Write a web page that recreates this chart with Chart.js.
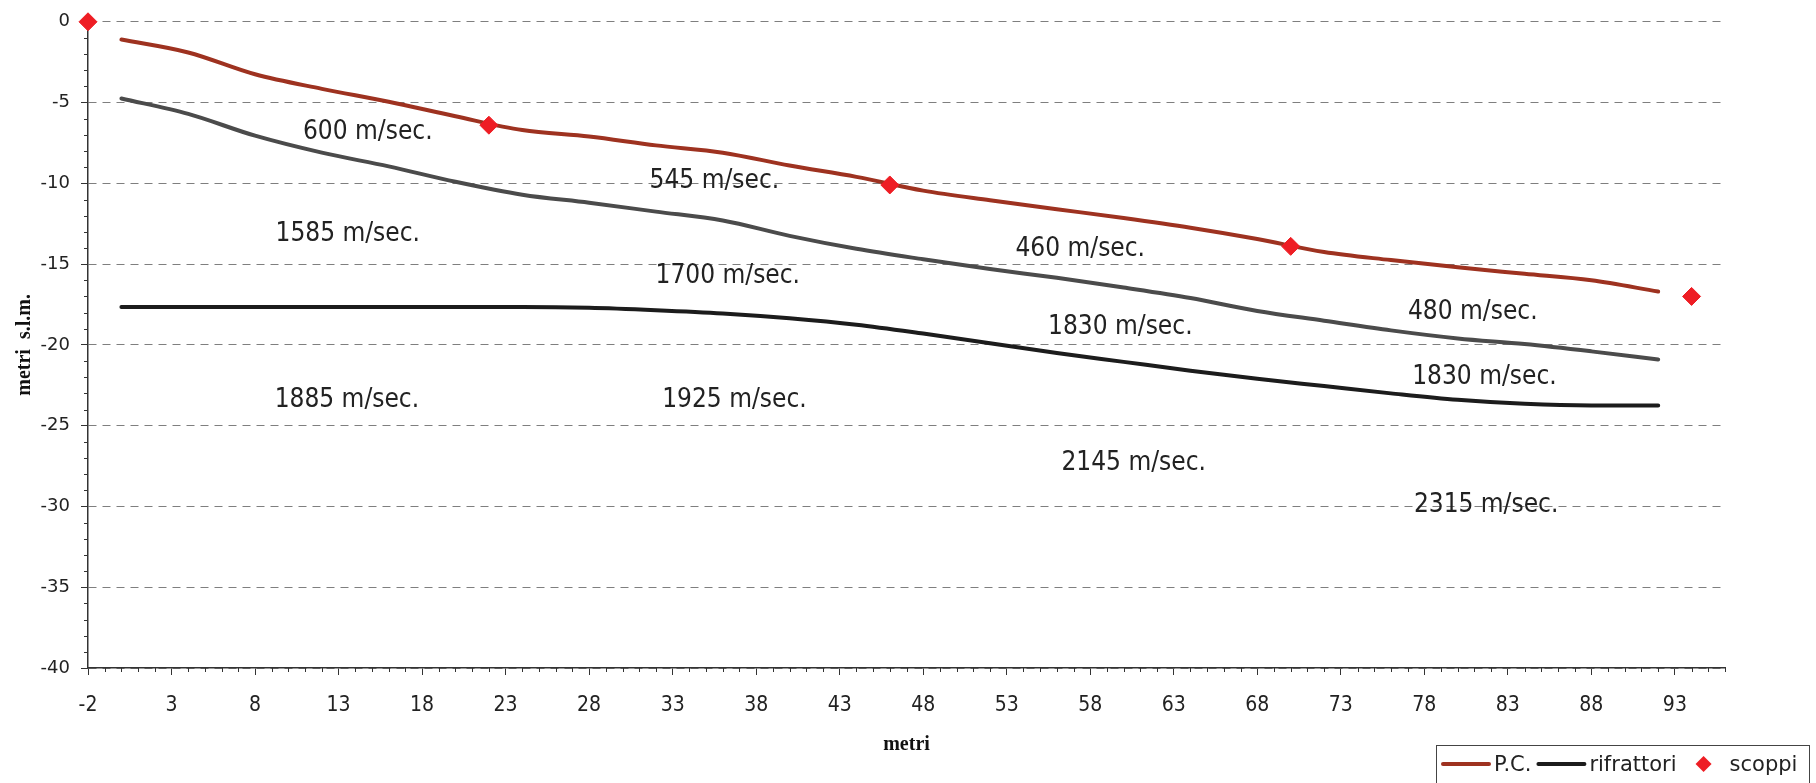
<!DOCTYPE html>
<html lang="it">
<head>
    <meta charset="UTF-8">
    <title>Sezione sismica a rifrazione</title>
    <style>
        body {
            margin: 0;
            background: #fff;
        }
        #wrap {
            width: 1816px;
            height: 783px;
        }
    </style>
</head>
<body>
    <div id="wrap"><canvas id="chart" width="1816" height="783"></canvas></div>

    <script src="https://cdn.jsdelivr.net/npm/chart.js@4"></script>
    <script>
        // distanze lungo lo stendimento (metri)
        const distanze = [0, 4, 8, 12, 16, 20, 24, 28, 32, 36, 40, 44, 48, 52, 56, 60, 64, 68, 72, 76, 80, 84, 88, 92];
        // piano campagna
        const quotePC = [-1.1, -1.9, -3.25, -4.15, -4.95, -5.85, -6.7, -7.1, -7.65, -8.1, -8.9, -9.6, -10.45, -11.05, -11.6, -12.15, -12.75, -13.45, -14.25, -14.75, -15.2, -15.6, -16.0, -16.7];
        // primo rifrattore (grigio)
        const rifrattore1 = [-4.75, -5.7, -7.05, -8.1, -8.95, -9.9, -10.7, -11.2, -11.75, -12.3, -13.25, -14.05, -14.7, -15.3, -15.85, -16.45, -17.1, -17.9, -18.5, -19.1, -19.6, -19.95, -20.4, -20.9];
        // secondo rifrattore (nero)
        const rifrattore2 = [-17.65, -17.65, -17.65, -17.65, -17.65, -17.65, -17.65, -17.7, -17.85, -18.05, -18.35, -18.75, -19.3, -19.9, -20.5, -21.05, -21.6, -22.1, -22.55, -23.0, -23.4, -23.65, -23.75, -23.75];
        // punti di scoppio
        const scoppiX = [-2, 22, 46, 70, 94];
        const scoppiY = [0, -6.4, -10.1, -13.9, -17];
        // etichette asse x
        const xTicks = [-2, 3, 8, 13, 18, 23, 28, 33, 38, 43, 48, 53, 58, 63, 68, 73, 78, 83, 88, 93];
        // velocita' degli strati
        const velTesti = ['600 m/sec.', '545 m/sec.', '1585 m/sec.', '460 m/sec.', '1700 m/sec.', '480 m/sec.', '1830 m/sec.', '1830 m/sec.', '1885 m/sec.', '1925 m/sec.', '2145 m/sec.', '2315 m/sec.'];
        const velX = [14.75, 35.5, 13.55, 57.4, 36.3, 80.9, 59.8, 81.6, 13.5, 36.7, 60.6, 81.7];
        const velY = [-6.83, -9.85, -13.17, -14.1, -15.76, -18.0, -18.9, -22.0, -23.4, -23.4, -27.3, -29.9];

        const sansCond = "'DejaVu Sans Condensed', 'Liberation Sans Narrow', 'DejaVu Sans', sans-serif";

        function punti(xs, ys) {
            return xs.map((x, i) => ({ x: x, y: ys[i] }));
        }

        // tacche secondarie sugli assi
        const tacche = {
            id: 'tacche',
            afterDraw(chart) {
                const { ctx, chartArea: a } = chart;
                const x = chart.scales.x, y = chart.scales.y;
                ctx.save();
                ctx.strokeStyle = '#333';
                ctx.lineWidth = 1;
                ctx.beginPath();
                for (let v = x.min; v <= x.max; v++) {
                    if (xTicks.includes(v)) continue;
                    const px = Math.round(x.getPixelForValue(v)) + 0.5;
                    ctx.moveTo(px, a.bottom);
                    ctx.lineTo(px, a.bottom + 4);
                }
                for (let v = y.min; v <= y.max; v++) {
                    if (v % 5 === 0) continue;
                    const py = Math.round(y.getPixelForValue(v)) + 0.5;
                    ctx.moveTo(a.left - 4, py);
                    ctx.lineTo(a.left, py);
                }
                ctx.stroke();
                ctx.restore();
            }
        };

        // scritte delle velocita'
        const velocita = {
            id: 'velocita',
            afterDatasetsDraw(chart) {
                const ctx = chart.ctx;
                const x = chart.scales.x, y = chart.scales.y;
                ctx.save();
                ctx.fillStyle = '#222';
                ctx.font = '26px ' + sansCond;
                ctx.textAlign = 'center';
                ctx.textBaseline = 'middle';
                velTesti.forEach((t, i) => {
                    ctx.fillText(t, x.getPixelForValue(velX[i]), y.getPixelForValue(velY[i]));
                });
                ctx.restore();
            }
        };

        // legenda con cornice in basso a destra
        const legenda = {
            id: 'legenda',
            afterDraw(chart) {
                const ctx = chart.ctx;
                const ds = chart.data.datasets;
                const voci = [ds[1], ds[3], ds[0]];
                const top = 745.5, left = 1436.5, right = 1809.5;
                const cy = 764;
                ctx.save();
                ctx.strokeStyle = '#444';
                ctx.lineWidth = 1;
                ctx.strokeRect(left, top, right - left, 60);
                ctx.font = '21px "DejaVu Sans", sans-serif';
                ctx.textBaseline = 'middle';
                ctx.fillStyle = '#222';
                let cx = 1443;
                voci.forEach((d, i) => {
                    if (d.showLine) {
                        ctx.strokeStyle = d.borderColor;
                        ctx.lineWidth = 4;
                        ctx.lineCap = 'round';
                        ctx.beginPath();
                        ctx.moveTo(cx, cy);
                        ctx.lineTo(cx + 46, cy);
                        ctx.stroke();
                        cx += 51;
                    } else {
                        cx += 20;
                        ctx.fillStyle = d.backgroundColor;
                        ctx.beginPath();
                        ctx.moveTo(cx - 8, cy);
                        ctx.lineTo(cx, cy - 8);
                        ctx.lineTo(cx + 8, cy);
                        ctx.lineTo(cx, cy + 8);
                        ctx.closePath();
                        ctx.fill();
                        cx += 26;
                    }
                    ctx.fillStyle = '#222';
                    ctx.fillText(d.label, cx, cy + 2);
                    cx += ctx.measureText(d.label).width + 7;
                });
                ctx.restore();
            }
        };

        const ctx = document.getElementById('chart').getContext('2d');
        new Chart(ctx, {
            type: 'scatter',
            data: {
                datasets: [
                    {
                        label: 'scoppi',
                        data: punti(scoppiX, scoppiY),
                        showLine: false,
                        pointStyle: 'rectRot',
                        pointRadius: 9,
                        pointHoverRadius: 9,
                        backgroundColor: '#ee1d24',
                        borderColor: '#ee1d24',
                        borderWidth: 1,
                        clip: false,
                        order: 0
                    },
                    {
                        label: 'P.C.',
                        data: punti(distanze, quotePC),
                        showLine: true,
                        borderColor: '#9e3220',
                        backgroundColor: '#9e3220',
                        borderWidth: 4,
                        pointRadius: 0,
                        cubicInterpolationMode: 'monotone',
                        borderCapStyle: 'round',
                        order: 1
                    },
                    {
                        label: 'rifrattori',
                        data: punti(distanze, rifrattore1),
                        showLine: true,
                        borderColor: '#4b4b4b',
                        backgroundColor: '#4b4b4b',
                        borderWidth: 4,
                        pointRadius: 0,
                        cubicInterpolationMode: 'monotone',
                        borderCapStyle: 'round',
                        order: 1
                    },
                    {
                        label: 'rifrattori',
                        data: punti(distanze, rifrattore2),
                        showLine: true,
                        borderColor: '#1c1c1c',
                        backgroundColor: '#1c1c1c',
                        borderWidth: 4,
                        pointRadius: 0,
                        cubicInterpolationMode: 'monotone',
                        borderCapStyle: 'round',
                        order: 1
                    }
                ]
            },
            options: {
                responsive: false,
                animation: false,
                layout: { padding: { left: 0, right: 91, top: 20, bottom: 0 } },
                plugins: {
                    legend: { display: false },
                    tooltip: { enabled: false }
                },
                scales: {
                    x: {
                        type: 'linear',
                        min: -2,
                        max: 96,
                        afterBuildTicks: s => { s.ticks = xTicks.map(v => ({ value: v })); },
                        afterFit: s => { s.height = 115; },
                        ticks: {
                            padding: 18,
                            color: '#222',
                            maxRotation: 0,
                            autoSkip: false,
                            font: { family: sansCond, size: 21 }
                        },
                        grid: {
                            drawOnChartArea: false,
                            tickLength: 7,
                            tickColor: '#333',
                            tickWidth: 1
                        },
                        border: { color: '#333', width: 1.5 },
                        title: {
                            display: true,
                            text: 'metri',
                            color: '#111',
                            font: { family: "'Liberation Serif', serif", size: 20, weight: 'bold' },
                            padding: { top: 0, bottom: 26 }
                        }
                    },
                    y: {
                        min: -40,
                        max: 0,
                        afterFit: s => { s.width = 88; },
                        ticks: {
                            stepSize: 5,
                            padding: 11,
                            color: '#222',
                            font: { family: "'DejaVu Sans', sans-serif", size: 18 }
                        },
                        grid: {
                            color: '#7f7f7f',
                            lineWidth: 1,
                            tickColor: '#333',
                            tickLength: 7,
                            tickBorderDash: []
                        },
                        border: { color: '#333', width: 1.5, dash: [8, 6] },
                        title: {
                            display: true,
                            text: 'metri  s.l.m.',
                            color: '#111',
                            font: { family: "'Liberation Serif', serif", size: 20, weight: 'bold' },
                            padding: { top: 13, bottom: 0 }
                        }
                    }
                }
            },
            plugins: [tacche, velocita, legenda]
        });
    </script>
</body>
</html>
